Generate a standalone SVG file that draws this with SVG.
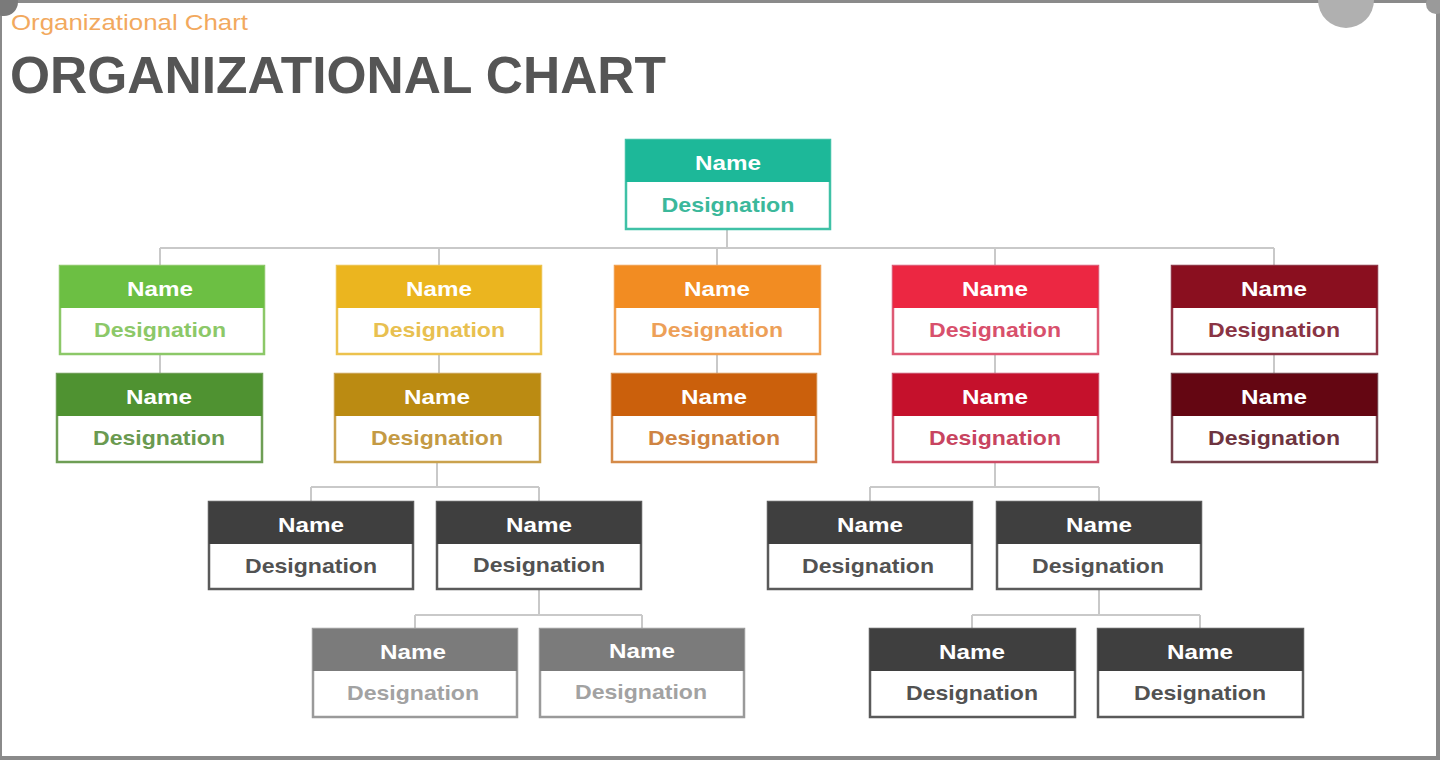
<svg xmlns="http://www.w3.org/2000/svg" width="1440" height="760" viewBox="0 0 1440 760">
<style>
  .frame{fill:none;stroke:#8a8a8a}
  .conn{fill:none;stroke:#c9c9c9;stroke-width:2}
  .box{fill:#ffffff;stroke-width:2.5}
  .nm{font-family:"Liberation Sans",Arial,sans-serif;font-weight:bold;font-size:21px;fill:#ffffff;text-anchor:middle}
  .ds{font-family:"Liberation Sans",Arial,sans-serif;font-weight:bold;font-size:21px;text-anchor:middle}
  .title{font-family:"Liberation Sans",Arial,sans-serif;font-weight:bold;font-size:52px;fill:#555555}
  .sub{font-family:"Liberation Sans",Arial,sans-serif;font-size:22px;fill:#f2a95e}
</style>
<rect width="1440" height="760" fill="#ffffff"/>
<g id="frame">
  <line x1="0" y1="1.5" x2="1440" y2="1.5" stroke="#8a8a8a" stroke-width="3"/>
  <line x1="1" y1="0" x2="1" y2="760" stroke="#8a8a8a" stroke-width="2"/>
  <line x1="1438" y1="0" x2="1438" y2="760" stroke="#8a8a8a" stroke-width="4"/>
  <line x1="0" y1="758" x2="1440" y2="758" stroke="#8a8a8a" stroke-width="4"/>
  <circle cx="1346" cy="0" r="28" fill="#b0b0b0"/>
  <circle cx="4" cy="2" r="14" fill="#7a7a7a"/>
  <circle cx="1436" cy="4" r="10" fill="#9a9a9a"/>
</g>
<text class="sub" x="11" y="30" textLength="237" lengthAdjust="spacingAndGlyphs">Organizational  Chart</text>
<text class="title" x="10" y="93" textLength="656" lengthAdjust="spacingAndGlyphs">ORGANIZATIONAL  CHART</text>

<g id="connectors">
  <path class="conn" d="M727 229V248M160 248H1274M160 248V266M439 248V266M717 248V266M995 248V266M1274 248V266"/>
  <path class="conn" d="M160 354V374M439 354V374M717 354V374M995 354V374M1274 354V374"/>
  <path class="conn" d="M437 462V487M311 487H539M311 487V502M539 487V502"/>
  <path class="conn" d="M995 462V487M870 487H1099M870 487V502M1099 487V502"/>
  <path class="conn" d="M539 590V615M415 615H642M415 615V629M642 615V629"/>
  <path class="conn" d="M1099 590V615M972 615H1200M972 615V629M1200 615V629"/>
</g>

<g id="n-root" transform="translate(626,140)">
  <rect class="box" x="0" y="0" width="204" height="89" stroke="#3fc1a6"/>
  <rect x="0" y="0" width="204" height="42" fill="#1db899"/>
  <text class="nm" x="102" y="30" textLength="66" lengthAdjust="spacingAndGlyphs">Name</text>
  <text class="ds" x="102" y="72" fill="#3bb89b" textLength="133" lengthAdjust="spacingAndGlyphs">Designation</text>
</g>

<g id="n-r1c1" transform="translate(60,266)">
  <rect class="box" x="0" y="0" width="204" height="88" stroke="#8cc868"/>
  <rect x="0" y="0" width="204" height="42" fill="#6cbf43"/>
  <text class="nm" x="100" y="30" textLength="66" lengthAdjust="spacingAndGlyphs">Name</text>
  <text class="ds" x="100" y="71" fill="#8cc868" textLength="132" lengthAdjust="spacingAndGlyphs">Designation</text>
</g>
<g id="n-r1c2" transform="translate(337,266)">
  <rect class="box" x="0" y="0" width="204" height="88" stroke="#ecc24e"/>
  <rect x="0" y="0" width="204" height="42" fill="#ebb51f"/>
  <text class="nm" x="102" y="30" textLength="66" lengthAdjust="spacingAndGlyphs">Name</text>
  <text class="ds" x="102" y="71" fill="#e8c050" textLength="132" lengthAdjust="spacingAndGlyphs">Designation</text>
</g>
<g id="n-r1c3" transform="translate(615,266)">
  <rect class="box" x="0" y="0" width="205" height="88" stroke="#f0a050"/>
  <rect x="0" y="0" width="205" height="42" fill="#f28c22"/>
  <text class="nm" x="102" y="30" textLength="66" lengthAdjust="spacingAndGlyphs">Name</text>
  <text class="ds" x="102" y="71" fill="#eda058" textLength="132" lengthAdjust="spacingAndGlyphs">Designation</text>
</g>
<g id="n-r1c4" transform="translate(893,266)">
  <rect class="box" x="0" y="0" width="205" height="88" stroke="#de5a74"/>
  <rect x="0" y="0" width="205" height="42" fill="#ec2742"/>
  <text class="nm" x="102" y="30" textLength="66" lengthAdjust="spacingAndGlyphs">Name</text>
  <text class="ds" x="102" y="71" fill="#d8506c" textLength="132" lengthAdjust="spacingAndGlyphs">Designation</text>
</g>
<g id="n-r1c5" transform="translate(1172,266)">
  <rect class="box" x="0" y="0" width="205" height="88" stroke="#8f3646"/>
  <rect x="0" y="0" width="205" height="42" fill="#8a0f1f"/>
  <text class="nm" x="102" y="30" textLength="66" lengthAdjust="spacingAndGlyphs">Name</text>
  <text class="ds" x="102" y="71" fill="#8a3444" textLength="132" lengthAdjust="spacingAndGlyphs">Designation</text>
</g>

<g id="n-r2c1" transform="translate(57,374)">
  <rect class="box" x="0" y="0" width="205" height="88" stroke="#6e9e55"/>
  <rect x="0" y="0" width="205" height="42" fill="#4f9231"/>
  <text class="nm" x="102" y="30" textLength="66" lengthAdjust="spacingAndGlyphs">Name</text>
  <text class="ds" x="102" y="71" fill="#6a9a50" textLength="132" lengthAdjust="spacingAndGlyphs">Designation</text>
</g>
<g id="n-r2c2" transform="translate(335,374)">
  <rect class="box" x="0" y="0" width="205" height="88" stroke="#caa24e"/>
  <rect x="0" y="0" width="205" height="42" fill="#bb8b12"/>
  <text class="nm" x="102" y="30" textLength="66" lengthAdjust="spacingAndGlyphs">Name</text>
  <text class="ds" x="102" y="71" fill="#c49a44" textLength="132" lengthAdjust="spacingAndGlyphs">Designation</text>
</g>
<g id="n-r2c3" transform="translate(612,374)">
  <rect class="box" x="0" y="0" width="204" height="88" stroke="#d58a48"/>
  <rect x="0" y="0" width="204" height="42" fill="#cb600c"/>
  <text class="nm" x="102" y="30" textLength="66" lengthAdjust="spacingAndGlyphs">Name</text>
  <text class="ds" x="102" y="71" fill="#cf8442" textLength="132" lengthAdjust="spacingAndGlyphs">Designation</text>
</g>
<g id="n-r2c4" transform="translate(893,374)">
  <rect class="box" x="0" y="0" width="205" height="88" stroke="#cc4a64"/>
  <rect x="0" y="0" width="205" height="42" fill="#c5112c"/>
  <text class="nm" x="102" y="30" textLength="66" lengthAdjust="spacingAndGlyphs">Name</text>
  <text class="ds" x="102" y="71" fill="#c84460" textLength="132" lengthAdjust="spacingAndGlyphs">Designation</text>
</g>
<g id="n-r2c5" transform="translate(1172,374)">
  <rect class="box" x="0" y="0" width="205" height="88" stroke="#74404a"/>
  <rect x="0" y="0" width="205" height="42" fill="#640612"/>
  <text class="nm" x="102" y="30" textLength="66" lengthAdjust="spacingAndGlyphs">Name</text>
  <text class="ds" x="102" y="71" fill="#6e3440" textLength="132" lengthAdjust="spacingAndGlyphs">Designation</text>
</g>

<g id="n-l3a" transform="translate(209,502)">
  <rect class="box" x="0" y="0" width="204" height="87" stroke="#5a5a5a"/>
  <rect x="0" y="0" width="204" height="42" fill="#3f3f3f"/>
  <text class="nm" x="102" y="30" textLength="66" lengthAdjust="spacingAndGlyphs">Name</text>
  <text class="ds" x="102" y="71" fill="#525252" textLength="132" lengthAdjust="spacingAndGlyphs">Designation</text>
</g>
<g id="n-l3b" transform="translate(437,502)">
  <rect class="box" x="0" y="0" width="204" height="87" stroke="#5a5a5a"/>
  <rect x="0" y="0" width="204" height="42" fill="#3f3f3f"/>
  <text class="nm" x="102" y="30" textLength="66" lengthAdjust="spacingAndGlyphs">Name</text>
  <text class="ds" x="102" y="70" fill="#525252" textLength="132" lengthAdjust="spacingAndGlyphs">Designation</text>
</g>
<g id="n-l3c" transform="translate(768,502)">
  <rect class="box" x="0" y="0" width="204" height="87" stroke="#5a5a5a"/>
  <rect x="0" y="0" width="204" height="42" fill="#3f3f3f"/>
  <text class="nm" x="102" y="30" textLength="66" lengthAdjust="spacingAndGlyphs">Name</text>
  <text class="ds" x="100" y="71" fill="#525252" textLength="132" lengthAdjust="spacingAndGlyphs">Designation</text>
</g>
<g id="n-l3d" transform="translate(997,502)">
  <rect class="box" x="0" y="0" width="204" height="87" stroke="#5a5a5a"/>
  <rect x="0" y="0" width="204" height="42" fill="#3f3f3f"/>
  <text class="nm" x="102" y="30" textLength="66" lengthAdjust="spacingAndGlyphs">Name</text>
  <text class="ds" x="101" y="71" fill="#525252" textLength="132" lengthAdjust="spacingAndGlyphs">Designation</text>
</g>

<g id="n-l4a" transform="translate(313,629)">
  <rect class="box" x="0" y="0" width="204" height="88" stroke="#9a9a9a"/>
  <rect x="0" y="0" width="204" height="42" fill="#7b7b7b"/>
  <text class="nm" x="100" y="30" textLength="66" lengthAdjust="spacingAndGlyphs">Name</text>
  <text class="ds" x="100" y="71" fill="#a2a2a2" textLength="132" lengthAdjust="spacingAndGlyphs">Designation</text>
</g>
<g id="n-l4b" transform="translate(540,629)">
  <rect class="box" x="0" y="0" width="204" height="88" stroke="#9a9a9a"/>
  <rect x="0" y="0" width="204" height="42" fill="#7b7b7b"/>
  <text class="nm" x="102" y="29" textLength="66" lengthAdjust="spacingAndGlyphs">Name</text>
  <text class="ds" x="101" y="70" fill="#a2a2a2" textLength="132" lengthAdjust="spacingAndGlyphs">Designation</text>
</g>
<g id="n-l4c" transform="translate(870,629)">
  <rect class="box" x="0" y="0" width="205" height="88" stroke="#5a5a5a"/>
  <rect x="0" y="0" width="205" height="42" fill="#3f3f3f"/>
  <text class="nm" x="102" y="30" textLength="66" lengthAdjust="spacingAndGlyphs">Name</text>
  <text class="ds" x="102" y="71" fill="#525252" textLength="132" lengthAdjust="spacingAndGlyphs">Designation</text>
</g>
<g id="n-l4d" transform="translate(1098,629)">
  <rect class="box" x="0" y="0" width="205" height="88" stroke="#5a5a5a"/>
  <rect x="0" y="0" width="205" height="42" fill="#3f3f3f"/>
  <text class="nm" x="102" y="30" textLength="66" lengthAdjust="spacingAndGlyphs">Name</text>
  <text class="ds" x="102" y="71" fill="#525252" textLength="132" lengthAdjust="spacingAndGlyphs">Designation</text>
</g>
</svg>
